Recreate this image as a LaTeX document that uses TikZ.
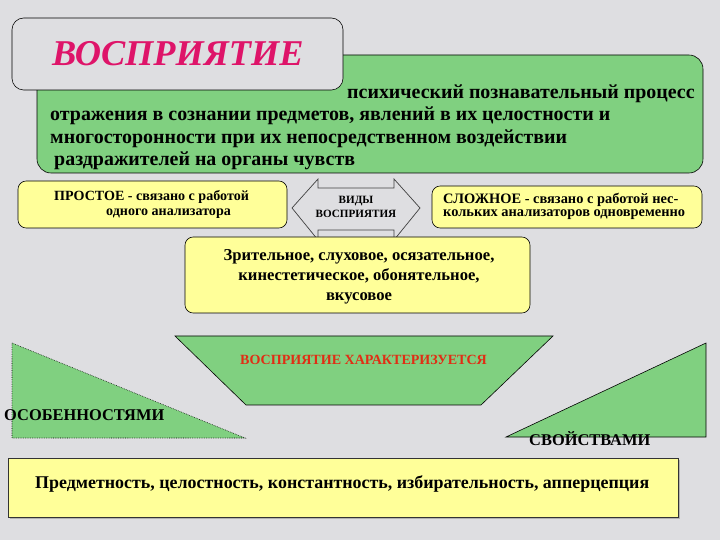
\documentclass[tikz,border=0pt]{standalone}
\usepackage{fontspec}
\setmainfont{Liberation Serif}
\definecolor{bgc}{RGB}{222,222,225}
\definecolor{grn}{RGB}{128,208,128}
\definecolor{ylw}{RGB}{255,255,153}
\definecolor{crim}{RGB}{222,20,105}
\definecolor{redt}{RGB}{225,45,20}
\tikzset{
  ybox/.style={draw=black, fill=ylw, rounded corners=7pt, line width=0.5pt},
  gshape/.style={draw=black, fill=grn, line width=0.5pt},
  lbl/.style={inner sep=0pt, anchor=base west},
}
\begin{document}
\begin{tikzpicture}[x=0.03cm, y=-0.03cm]
\fill[bgc] (0,0) rectangle (720,540);
\useasboundingbox (0,0) rectangle (720,540);
% green definition box
\draw[gshape, rounded corners=12pt] (37,55) rectangle (703,173);
% title box
\draw[fill=bgc, rounded corners=10pt, line width=0.5pt] (12,18) rectangle (343,90);
\node[lbl, text=crim, font=\fontsize{31}{36}\selectfont\bfseries\itshape] (title) at (52,66) {ВОСПРИЯТИЕ};
\node[lbl, font=\fontsize{17}{20}\selectfont\bfseries] (d1) at (347,99) {психический познавательный процесс};
\node[lbl, font=\fontsize{17}{20}\selectfont\bfseries] (d2) at (50,121) {отражения в сознании предметов, явлений в их целостности и};
\node[lbl, font=\fontsize{17}{20}\selectfont\bfseries] (d3) at (50,144) {многосторонности при их непосредственном воздействии};
\node[lbl, font=\fontsize{17}{20}\selectfont\bfseries] (d4) at (54,166) {раздражителей на органы чувств};
% simple
\draw[ybox] (18,181) rectangle (287,228);
\node[lbl, font=\bfseries\fontsize{12}{15}\selectfont] (s1) at (54,201) {ПРОСТОЕ - связано с работой};
\node[lbl, font=\bfseries\fontsize{12}{15}\selectfont] (s2) at (106,216) {одного анализатора};
% arrow
\draw[line width=0.6pt, draw=black!75, fill=bgc] (292,208) -- (318,179) -- (318,188) -- (394,188) -- (394,179) -- (420,208) -- (394,240) -- (394,230) -- (318,230) -- (318,240) -- cycle;
\node[font=\bfseries\fontsize{9.5}{12}\selectfont, align=center, inner sep=0pt] (vid) at (356,207) {ВИДЫ\\ВОСПРИЯТИЯ};
% complex
\draw[ybox] (432,186) rectangle (702,228);
\node[lbl, font=\bfseries\fontsize{12.3}{15}\selectfont] (c1) at (443,204) {СЛОЖНОЕ - связано с работой нес-};
\node[lbl, font=\bfseries\fontsize{12.3}{15}\selectfont] (c2) at (443,217) {кольких анализаторов одновременно};
% kinds
\draw[ybox] (185,237) rectangle (530,313);
\node[font=\bfseries\fontsize{14.2}{17}\selectfont, align=center, inner sep=0pt] (k) at (359,277) {Зрительное, слуховое, осязательное,\\кинестетическое, обонятельное,\\вкусовое};
% trapezoid
\draw[gshape] (175,336) -- (553,336) -- (481,405) -- (246,405) -- cycle;
\node[lbl, font=\bfseries\fontsize{12}{14}\selectfont, text=redt] (char) at (240,365) {ВОСПРИЯТИЕ ХАРАКТЕРИЗУЕТСЯ};
% triangles
\draw[gshape, densely dotted] (12,343) -- (245,438) -- (12,438) -- cycle;
\node[lbl, font=\bfseries\fontsize{14}{17}\selectfont] (osob) at (4,420) {ОСОБЕННОСТЯМИ};
\draw[gshape] (706,343) -- (706,437) -- (506,437) -- cycle;
\node[lbl, font=\bfseries\fontsize{14}{17}\selectfont] (svoj) at (529,446) {СВОЙСТВАМИ};
% bottom
\fill[black!30] (10,460) rectangle (680,519);
\draw[fill=ylw, line width=0.5pt, draw=black!80] (8,458) rectangle (678,517);
\node[lbl, font=\bfseries\fontsize{15.3}{18}\selectfont] (props) at (35,488) {Предметность, целостность, константность, избирательность, апперцепция};
\end{tikzpicture}
\end{document}
